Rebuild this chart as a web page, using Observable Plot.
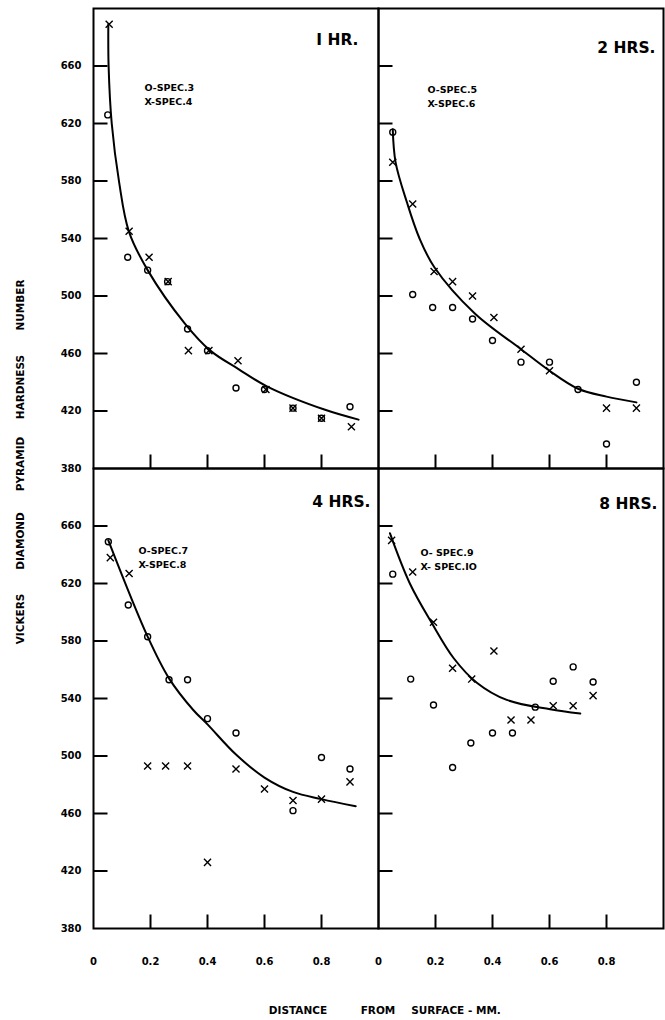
<!DOCTYPE html>
<html>
<head>
<meta charset="utf-8">
<script src="https://cdn.jsdelivr.net/npm/d3@7"></script>
<script src="https://cdn.jsdelivr.net/npm/@observablehq/plot@0.6"></script>
<style>
  body { margin: 0; background: #fff; }
  svg { display: block; }
</style>
</head>
<body>
<div id="chart"></div>
<script>
// Panel captions and legend lines
const panelTitles = ["I HR.", "2 HRS.", "4 HRS.", "8 HRS."];
const legendO = ["O-SPEC.3", "O-SPEC.5", "O-SPEC.7", "O- SPEC.9"];
const legendX = ["X-SPEC.4", "X-SPEC.6", "X-SPEC.8", "X- SPEC.IO"];

// Axis ticks
const xTicks = [0, 0.2, 0.4, 0.6, 0.8];
const xTickLabels = ["0", "0.2", "0.4", "0.6", "0.8"];
const yTicks = [380, 420, 460, 500, 540, 580, 620, 660];

// Hardness readings: [distance from surface (mm), Vickers hardness]
// 1 hour
const spec3 = [[0.05, 626], [0.12, 527], [0.19, 518], [0.26, 510], [0.33, 477], [0.40, 462], [0.50, 436], [0.60, 435], [0.70, 422], [0.80, 415], [0.90, 423]];
const spec4 = [[0.055, 689], [0.125, 545], [0.195, 527], [0.262, 510], [0.333, 462], [0.405, 462], [0.507, 455], [0.605, 435], [0.70, 422], [0.80, 415], [0.905, 409]];
const fit1 = [[0.052, 689], [0.053, 660], [0.064, 620], [0.09, 579], [0.124, 545], [0.19, 518], [0.32, 481], [0.41, 462], [0.51, 449], [0.61, 437], [0.81, 421], [0.93, 414]];

// 2 hours
const spec5 = [[0.05, 614], [0.12, 501], [0.19, 492], [0.26, 492], [0.33, 484], [0.40, 469], [0.50, 454], [0.60, 454], [0.70, 435], [0.80, 397], [0.905, 440]];
const spec6 = [[0.05, 593], [0.12, 564], [0.195, 517], [0.26, 510], [0.33, 500], [0.405, 485], [0.50, 463], [0.60, 448], [0.80, 422], [0.905, 422]];
const fit2 = [[0.05, 616], [0.06, 593], [0.10, 565], [0.144, 540], [0.196, 520], [0.337, 488], [0.50, 463], [0.60, 448], [0.70, 435.5], [0.80, 430], [0.905, 426]];

// 4 hours
const spec7 = [[0.052, 649], [0.122, 605], [0.19, 583], [0.265, 553], [0.33, 553], [0.40, 526], [0.50, 516], [0.70, 462], [0.80, 499], [0.90, 491]];
const spec8 = [[0.059, 638], [0.125, 627], [0.19, 493], [0.253, 493], [0.33, 493], [0.40, 426], [0.50, 491], [0.60, 477], [0.70, 469], [0.80, 470], [0.90, 482]];
const fit4 = [[0.052, 650], [0.19, 583], [0.265, 554], [0.35, 532], [0.40, 522], [0.50, 501], [0.60, 485], [0.70, 475], [0.80, 470], [0.92, 465]];

// 8 hours
const spec9 = [[0.05, 626.5], [0.113, 553.5], [0.193, 535.5], [0.26, 492], [0.324, 509], [0.40, 516], [0.47, 516], [0.55, 534], [0.613, 552], [0.683, 562], [0.753, 551.5]];
const spec10 = [[0.046, 650], [0.12, 628], [0.193, 593], [0.26, 561], [0.327, 553.5], [0.405, 573], [0.465, 525], [0.535, 525], [0.613, 535], [0.683, 535], [0.753, 542]];
const fit8 = [[0.04, 655], [0.11, 620], [0.187, 592.5], [0.264, 568], [0.345, 551], [0.45, 539], [0.602, 532.5], [0.708, 529.5]];

// Grid placement of the four heat-treatment panels
const panels = [
  {title: panelTitles[0], col: "L", row: "T", o: spec3, x: spec4, fit: fit1, legend: [legendO[0], legendX[0]]},
  {title: panelTitles[1], col: "R", row: "T", o: spec5, x: spec6, fit: fit2, legend: [legendO[1], legendX[1]]},
  {title: panelTitles[2], col: "L", row: "B", o: spec7, x: spec8, fit: fit4, legend: [legendO[2], legendX[2]]},
  {title: panelTitles[3], col: "R", row: "B", o: spec9, x: spec10, fit: fit8, legend: [legendO[3], legendX[3]]}
];

const rows = (key) => panels.flatMap((p) => p[key].map(([d, h], i) => ({col: p.col, row: p.row, d, h, i})));
const oRows = rows("o");
const xRows = rows("x");
const fitRows = rows("fit");

// Chart geometry
const W = 665, H = 1020;
const M = {top: 7, right: 2, bottom: 92, left: 92};
const panelW = (W - M.left - M.right) / 2;
const panelH = (H - M.top - M.bottom) / 2;
const tickLenX = 14, tickLenY = 15;

// Per-panel text placement (pixels from the panel corner)
const titleOffset = [[-20, 32], [-8, 40], [-8, 34], [-6, 36]];
const legendOffset = [[51, 79], [49, 81], [45, 82], [42, 84]];

const textMarks = panels.flatMap((p, k) => [
  Plot.text([p], {
    fx: "col", fy: "row", frameAnchor: "top-right", text: "title",
    textAnchor: "end", lineAnchor: "middle",
    dx: titleOffset[k][0], dy: titleOffset[k][1],
    fontSize: 15.5, fontWeight: "bold", fill: "black"
  }),
  Plot.text([p], {
    fx: "col", fy: "row", frameAnchor: "top-left", text: (d) => d.legend[0],
    textAnchor: "start", lineAnchor: "middle",
    dx: legendOffset[k][0], dy: legendOffset[k][1],
    fontSize: 9.5, fill: "black"
  }),
  Plot.text([p], {
    fx: "col", fy: "row", frameAnchor: "top-left", text: (d) => d.legend[1],
    textAnchor: "start", lineAnchor: "middle",
    dx: legendOffset[k][0], dy: legendOffset[k][1] + 14.5,
    fontSize: 9.5, fill: "black"
  })
]);

const chart = Plot.plot({
  width: W,
  height: H,
  marginTop: M.top,
  marginRight: M.right,
  marginBottom: M.bottom,
  marginLeft: M.left,
  style: {fontFamily: "'DejaVu Sans', sans-serif", fontWeight: "bold", fontSize: "10px", color: "black", background: "white"},
  x: {domain: [0, 1], axis: null},
  y: {domain: [380, 700], axis: null},
  fx: {domain: ["L", "R"], padding: 0, axis: null},
  fy: {domain: ["T", "B"], padding: 0, axis: null},
  marks: [
    // inward tick marks on every panel
    Plot.tickX(xTicks.slice(1), {x: (d) => d, insetTop: panelH - tickLenX, stroke: "black", strokeWidth: 2}),
    Plot.tickY(yTicks.slice(1), {y: (d) => d, insetRight: panelW - tickLenY, stroke: "black", strokeWidth: 2}),
    // tick labels on the outer panels only
    Plot.axisX(xTicks, {anchor: "bottom", tickSize: 0, tickPadding: 29, tickFormat: (d) => xTickLabels[xTicks.indexOf(d)], facetAnchor: "bottom", label: null}),
    Plot.axisY(yTicks, {anchor: "left", tickSize: 0, tickPadding: 12, tickFormat: (d) => String(d), facetAnchor: "left", label: null}),
    Plot.frame({strokeWidth: 2, stroke: "black"}),
    Plot.line(fitRows, {x: "d", y: "h", fx: "col", fy: "row", z: (d) => d.col + d.row, curve: "catmull-rom", stroke: "black", strokeWidth: 2}),
    Plot.dot(oRows, {x: "d", y: "h", fx: "col", fy: "row", r: 3, stroke: "black", strokeWidth: 1.4, fill: "none"}),
    Plot.dot(xRows, {x: "d", y: "h", fx: "col", fy: "row", symbol: "times", r: 3.3, stroke: "black", strokeWidth: 1.4}),
    ...textMarks
  ]
});

document.getElementById("chart").append(chart);

// Axis titles, spaced out word by word
const svg = d3.select(chart);
const yWords = [["NUMBER", 305], ["HARDNESS", 387], ["PYRAMID", 464], ["DIAMOND", 541], ["VICKERS", 619]];
svg.append("g")
  .attr("font-family", "'DejaVu Sans', sans-serif")
  .attr("font-weight", "bold")
  .attr("font-size", 10.5)
  .selectAll("text")
  .data(yWords)
  .join("text")
  .attr("transform", (d) => `translate(20,${d[1]}) rotate(-90)`)
  .attr("text-anchor", "middle")
  .attr("dominant-baseline", "central")
  .attr("fill", "black")
  .text((d) => d[0]);

const xWords = [["DISTANCE", 298], ["FROM", 378], ["SURFACE - MM.", 456]];
svg.append("g")
  .attr("font-family", "'DejaVu Sans', sans-serif")
  .attr("font-weight", "bold")
  .attr("font-size", 10.5)
  .selectAll("text")
  .data(xWords)
  .join("text")
  .attr("x", (d) => d[1])
  .attr("y", 1010)
  .attr("text-anchor", "middle")
  .attr("dominant-baseline", "central")
  .attr("fill", "black")
  .text((d) => d[0]);
</script>
</body>
</html>
